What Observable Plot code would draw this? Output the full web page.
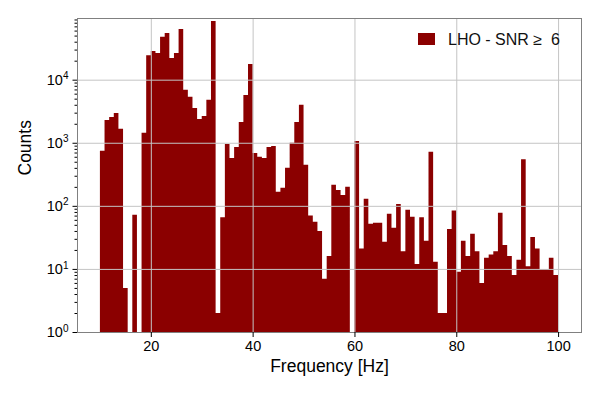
<!DOCTYPE html>
<html><head><meta charset="utf-8">
<script src="https://cdn.jsdelivr.net/npm/d3@7"></script>
<script src="https://cdn.jsdelivr.net/npm/@observablehq/plot@0.6"></script>
<style>body{margin:0;background:#fff}</style>
</head><body><div id="chart"></div>
<script>
// Histogram definition: 99 bins between 10 and 100 Hz
const binLo = 10, binHi = 100;
const counts = [
  745, 2300, 2570, 2950, 1660, 5, 0, 72, 0, 1440,
  24500, 28500, 26500, 48000, 55000, 22000, 26500, 63500, 6900, 5350,
  3560, 2380, 2650, 4800, 85000, 2, 66, 960, 575, 860,
  2140, 5700, 17800, 690, 600, 575, 860, 890, 167, 193,
  400, 1000, 2140, 4000, 450, 70, 56, 40, 7, 16,
  215, 178, 148, 200, 0, 1070, 21, 129, 52, 54,
  54, 27, 75, 45, 107, 19, 87, 67, 12, 66,
  28, 720, 13, 2, 2, 43, 84, 9, 28, 16,
  36, 19, 6, 15, 17, 19, 78, 24, 16, 8,
  14, 550, 11, 32, 21, 10, 10, 15, 8
];
const xTicks = [20, 40, 60, 80, 100];
const yTicks = [1, 10, 100, 1000, 10000];
const seriesLabel = "LHO - SNR \u2265  6";
const xLabel = "Frequency [Hz]";
const yLabel = "Counts";
const barColor = "#8b0000";

const nb = counts.length;
const bw = (binHi - binLo) / nb;
// step-filled histogram outline; empty bins sit on the log baseline (1)
const steps = counts.map((c, i) => ({x: binLo + i * bw, y: Math.max(c, 1)}));
steps.push({x: binHi, y: Math.max(counts[nb - 1], 1)});
const minorTicks = [];
for (let e = 0; e < 5; e++) for (let m = 2; m <= 9; m++) minorTicks.push(m * 10 ** e);

const font = "'Liberation Sans', Arial, Helvetica, sans-serif";
const plot = Plot.plot({
  width: 600, height: 400,
  marginLeft: 77, marginRight: 19, marginTop: 18, marginBottom: 68,
  style: {fontFamily: font, fontSize: "14.5px", background: "#fff", color: "#000"},
  x: {domain: [5.5, 104.5], label: null},
  y: {type: "log", domain: [1, 95000], label: null},
  marks: [
    Plot.areaY(steps, {x: "x", y1: 1, y2: "y", curve: "step-after", fill: barColor}),
    Plot.gridX(xTicks, {stroke: "#c4c4c4", strokeOpacity: 1, strokeWidth: 1}),
    Plot.gridY(yTicks, {stroke: "#c4c4c4", strokeOpacity: 1, strokeWidth: 1}),
    Plot.frame({stroke: "#808080", strokeWidth: 1}),
    Plot.axisX(xTicks, {tickSize: 5, tickPadding: 3, label: null, fontSize: 14.5, tickFormat: d => String(d)}),
    Plot.axisY(minorTicks, {tickSize: 2.5, label: null, tickFormat: () => ""}),
    Plot.axisY(yTicks, {tickSize: 4.5, tickPadding: 4.5, label: null, fontSize: 14.5,
      tickFormat: d => "10^" + Math.round(Math.log10(d))}),
    Plot.text([xLabel], {frameAnchor: "bottom", dy: 39, fontSize: 17.5, text: d => d}),
    Plot.text([yLabel], {frameAnchor: "left", dx: -52, rotate: -90, fontSize: 17.5, text: d => d})
  ]
});

// superscript exponents on log tick labels
d3.select(plot).selectAll('g[aria-label="y-axis tick label"] text').each(function () {
  const m = (this.textContent || "").match(/^10\^(\d+)$/);
  if (!m) return;
  const sel = d3.select(this);
  sel.text(null);
  sel.append("tspan").text("10");
  sel.append("tspan").attr("dy", "-0.55em").attr("font-size", "10px").text(m[1]);
});

// legend inside the axes (upper right)
const lg = d3.select(plot).append("g").attr("font-family", font).attr("text-anchor", "start");
lg.append("rect").attr("x", 418).attr("y", 33).attr("width", 17).attr("height", 12).attr("fill", barColor);
lg.append("text").attr("x", 448).attr("y", 39).attr("dy", "0.35em").attr("font-size", "16px")
  .attr("text-anchor", "start").attr("fill", "#111").text(seriesLabel);

document.getElementById("chart").appendChild(plot);
</script>
</body></html>
